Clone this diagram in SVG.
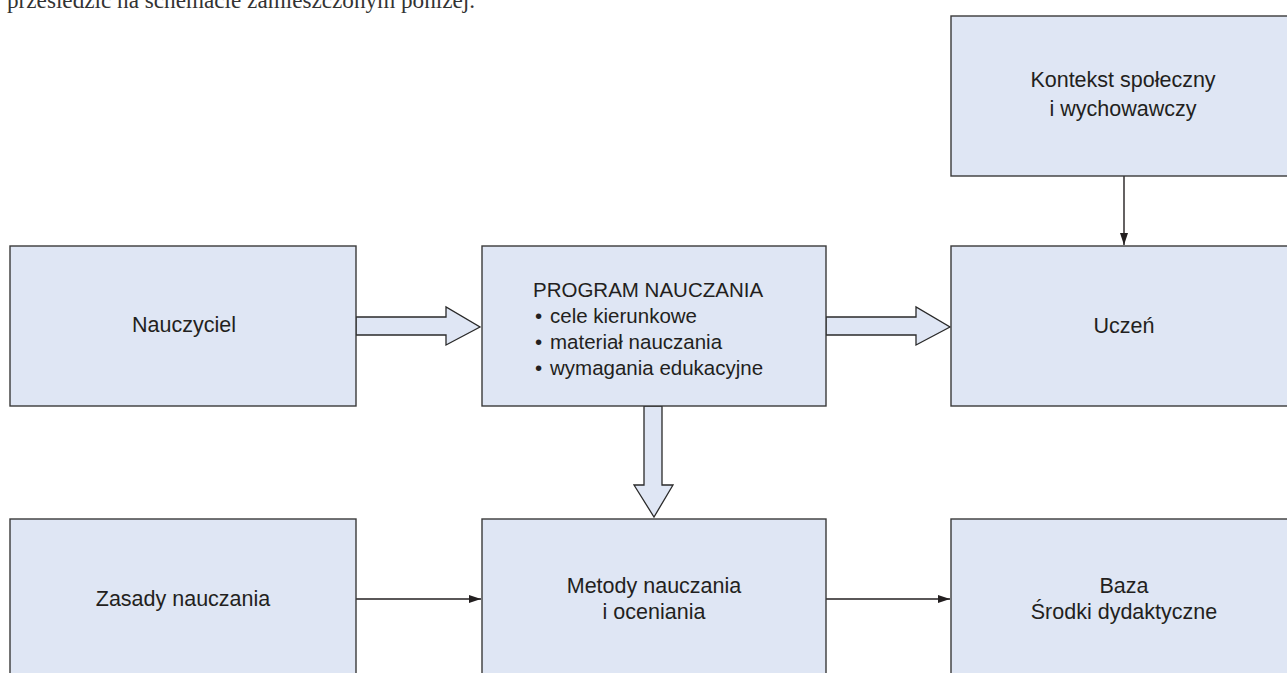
<svg xmlns="http://www.w3.org/2000/svg" width="1287" height="673" viewBox="0 0 1287 673">
<defs>
<style>
.box{fill:#dfe6f4;stroke:#3a3a3a;stroke-width:1.4}
.blk{fill:#dfe6f4;stroke:#2a2a2a;stroke-width:1.3;stroke-linejoin:miter}
.lbl{font-family:"Liberation Sans",Arial,sans-serif;font-size:21.5px;fill:#231f20;text-anchor:middle}
.lft{font-family:"Liberation Sans",Arial,sans-serif;font-size:20.5px;fill:#231f20}
.ln{stroke:#231f20;stroke-width:1.4;fill:none}
</style>
<marker id="ah" markerWidth="12" markerHeight="8" refX="12" refY="4" orient="auto" markerUnits="userSpaceOnUse">
<path d="M0,0 L12,4 L0,8 Z" fill="#231f20"/>
</marker>
</defs>
<rect width="1287" height="673" fill="#ffffff"/>
<text x="7" y="7.5" font-family="'Liberation Serif','Times New Roman',serif" font-size="23.2" fill="#333">prześledzić na schemacie zamieszczonym poniżej.</text>

<g id="connectors">
<path class="blk" d="M356,317 H446 V307 L480,327 L446,345 V335 H356 Z"/>
<path class="blk" d="M826,317 H916 V307 L950,327 L916,345 V335 H826 Z"/>
<path class="blk" d="M644,406 V485 H634 L654,517 L673,485 H662 V406 Z"/>
<line class="ln" x1="1124" y1="176" x2="1124" y2="245" marker-end="url(#ah)"/>
<line class="ln" x1="356" y1="599" x2="481" y2="599" marker-end="url(#ah)"/>
<line class="ln" x1="826" y1="599" x2="950" y2="599" marker-end="url(#ah)"/>
</g>

<g id="kontekst">
<rect class="box" x="951" y="16" width="346" height="160"/>
<text class="lbl" x="1123" y="87">Kontekst społeczny</text>
<text class="lbl" x="1123" y="116">i wychowawczy</text>
</g>
<g id="nauczyciel">
<rect class="box" x="10" y="246" width="346" height="160"/>
<text class="lbl" x="184" y="332">Nauczyciel</text>
</g>
<g id="program">
<rect class="box" x="482" y="246" width="344" height="160"/>
<text class="lft" x="533" y="297">PROGRAM NAUCZANIA</text>
<text class="lft"><tspan x="535" y="323">•</tspan><tspan x="550" y="323">cele kierunkowe</tspan></text>
<text class="lft"><tspan x="535" y="349">•</tspan><tspan x="550" y="349">materiał nauczania</tspan></text>
<text class="lft"><tspan x="535" y="375">•</tspan><tspan x="550" y="375">wymagania edukacyjne</tspan></text>
</g>
<g id="uczen">
<rect class="box" x="951" y="246" width="346" height="160"/>
<text class="lbl" x="1124" y="333">Uczeń</text>
</g>
<g id="zasady">
<rect class="box" x="10" y="519" width="346" height="170"/>
<text class="lbl" x="183" y="606">Zasady nauczania</text>
</g>
<g id="metody">
<rect class="box" x="482" y="519" width="344" height="170"/>
<text class="lbl" x="654" y="593">Metody nauczania</text>
<text class="lbl" x="654" y="619">i oceniania</text>
</g>
<g id="baza">
<rect class="box" x="951" y="519" width="346" height="170"/>
<text class="lbl" x="1124" y="593">Baza</text>
<text class="lbl" x="1124" y="619">Środki dydaktyczne</text>
</g>
</svg>
